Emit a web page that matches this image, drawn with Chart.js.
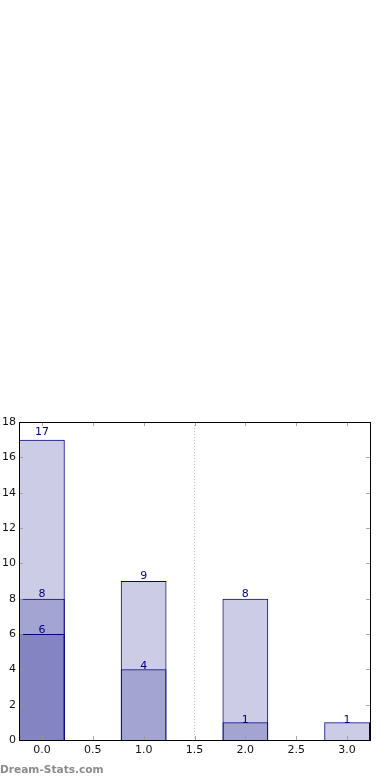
<!DOCTYPE html>
<html><head><meta charset="utf-8">
<script src="https://cdn.jsdelivr.net/npm/chart.js@4/dist/chart.umd.min.js"></script>
<style>
html,body{margin:0;padding:0;background:#fff;}
#wrap{position:relative;width:390px;height:780px;}
#wm{position:absolute;left:0;top:763px;font:bold 10.6px "DejaVu Sans";line-height:13px;color:#8c8c8c;white-space:nowrap;}
</style></head><body>
<div id="wrap"><canvas id="c" width="390" height="780"></canvas><div id="wm">Dream-Stats.com</div></div>
<script>
// Data
const positions = [0, 1, 2, 3];
const seriesInner = [6, null, null, null];
const seriesMiddle = [8, 4, 1, null];
const seriesOuter = [17, 9, 8, 1];
const xTickValues = [0, 0.5, 1, 1.5, 2, 2.5, 3];
const yTickValues = [0, 2, 4, 6, 8, 10, 12, 14, 16, 18];
const dividerAt = 1.5;

Chart.defaults.font.family = '"DejaVu Sans"';
Chart.defaults.font.size = 11;
Chart.defaults.color = '#111';

const fill = 'rgba(0,0,128,0.2)';
const edge = '#000080';

function mk(vals) {
  return {
    data: positions.map((x, i) => ({x: x, y: vals[i]})),
    backgroundColor: fill,
    borderColor: edge,
    borderWidth: 1,
    borderSkipped: 'bottom',
    grouped: false,
    barPercentage: 0.9,
    categoryPercentage: 1.0
  };
}

const labelPlugin = {
  id: 'labels',
  afterDatasetsDraw(chart) {
    const ctx = chart.ctx, ys = chart.scales.y;
    ctx.save();
    ctx.font = '11px "DejaVu Sans"';
    ctx.fillStyle = '#000080';
    ctx.textAlign = 'center';
    ctx.textBaseline = 'middle';
    chart.data.datasets.forEach((ds, di) => {
      const meta = chart.getDatasetMeta(di);
      meta.data.forEach((el, i) => {
        const v = ds.data[i].y;
        if (v === null || v === undefined) return;
        ctx.fillText(String(v), el.x, ys.getPixelForValue(v * 1.02) - 1.5);
      });
    });
    ctx.restore();
  },
  afterDraw(chart) {
    const ctx = chart.ctx, a = chart.chartArea;
    const xs = chart.scales.x, ys = chart.scales.y;
    ctx.save();
    ctx.strokeStyle = 'rgba(150,150,150,0.85)';
    ctx.lineWidth = 1;
    ctx.beginPath();
    xs.ticks.forEach(t => {
      const px = Math.round(xs.getPixelForValue(t.value)) + 0.5;
      ctx.moveTo(px, a.top); ctx.lineTo(px, a.top + 4);
      ctx.moveTo(px, a.bottom); ctx.lineTo(px, a.bottom - 4);
    });
    ys.ticks.forEach(t => {
      const py = Math.round(ys.getPixelForValue(t.value)) + 0.5;
      ctx.moveTo(a.left, py); ctx.lineTo(a.left + 4, py);
      ctx.moveTo(a.right, py); ctx.lineTo(a.right - 4, py);
    });
    ctx.stroke();
    ctx.strokeStyle = '#000';
    ctx.strokeRect(a.left + 0.5, a.top + 0.5, a.right - a.left, a.bottom - a.top);
    ctx.restore();
  }
};

new Chart(document.getElementById('c'), {
  type: 'bar',
  data: { datasets: [mk(seriesInner), mk(seriesMiddle), mk(seriesOuter)] },
  options: {
    responsive: false,
    animation: false,
    devicePixelRatio: 1,
    layout: { padding: { top: 422, right: 20, left: 0, bottom: 0 } },
    plugins: { legend: { display: false }, tooltip: { enabled: false } },
    scales: {
      x: {
        type: 'linear',
        min: -0.225, max: 3.225,
        offset: false,
        afterBuildTicks: s => { s.ticks = xTickValues.map(v => ({value: v})); },
        afterFit: s => { s.height = 40; },
        ticks: { padding: 4, maxRotation: 0, autoSkip: false, callback: v => Number(v).toFixed(1) },
        grid: {
          offset: false,
          drawTicks: false,
          color: ctx => (ctx.tick && ctx.tick.value === dividerAt) ? '#c4c4c4' : 'rgba(0,0,0,0)'
        },
        border: { display: false, dash: [1, 2] }
      },
      y: {
        min: 0, max: 18,
        afterBuildTicks: s => { s.ticks = yTickValues.map(v => ({value: v})); },
        afterFit: s => { s.width = 19; },
        ticks: { padding: 3, autoSkip: false },
        grid: { display: false, drawTicks: false },
        border: { display: false }
      }
    }
  },
  plugins: [labelPlugin]
});
</script>
</body></html>
